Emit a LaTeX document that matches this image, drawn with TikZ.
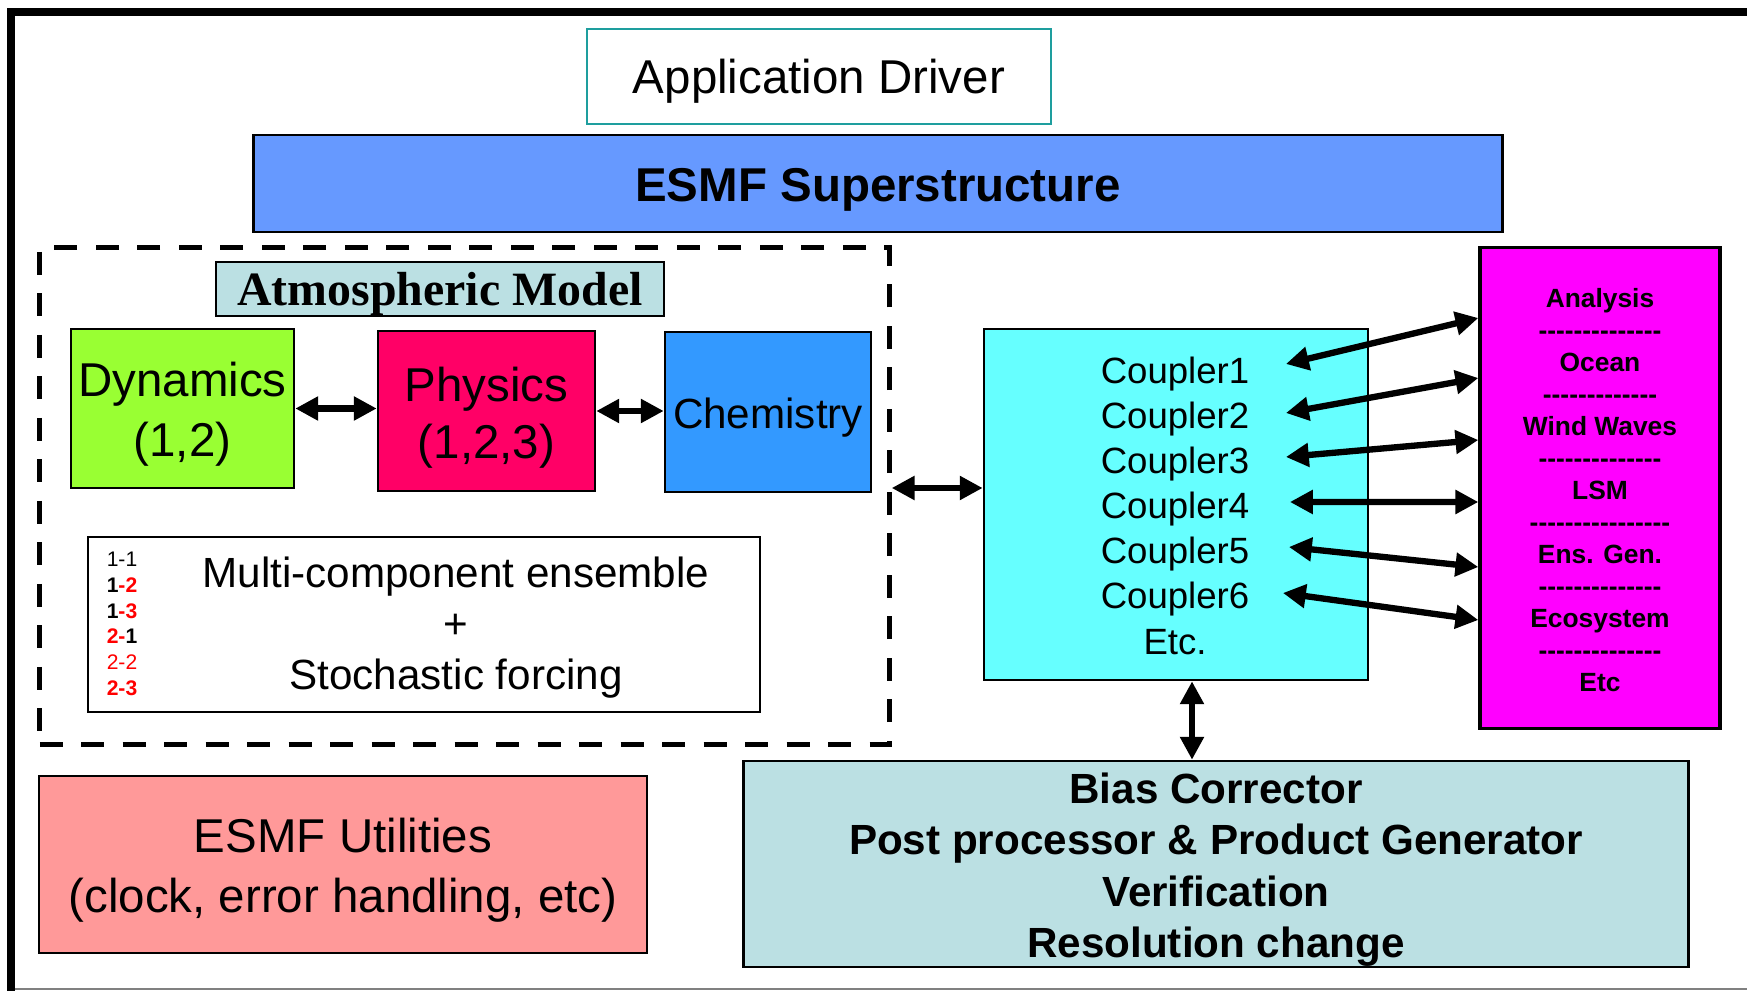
\documentclass[tikz,border=0pt]{standalone}
\usepackage{fontspec}
\setmainfont{Liberation Sans}
\newfontfamily\serifbold{Liberation Serif}[BoldFont={Liberation Serif Bold}]
\usetikzlibrary{arrows.meta}
\definecolor{drvteal}{RGB}{30,158,158}
\definecolor{supblue}{RGB}{102,153,255}
\definecolor{paleblue}{RGB}{187,224,227}
\definecolor{dyngreen}{RGB}{153,255,51}
\definecolor{phypink}{RGB}{255,0,102}
\definecolor{chemblue}{RGB}{51,153,255}
\definecolor{cplcyan}{RGB}{102,255,255}
\definecolor{magpink}{RGB}{255,0,255}
\definecolor{utilpink}{RGB}{255,153,153}
\newcommand{\rd}[1]{\textcolor{red}{#1}}
\newcommand{\dashrow}[1]{\foreach \k in {1,...,#1}{-\kern0pt}}
\newcommand{\dropby}[1]{\rule{0pt}{\dimexpr0.73em+#1\relax}}

\begin{document}
\begin{tikzpicture}[x=0.01cm, y=-0.01cm,
    bnode/.style={draw, line width=0.7pt, inner sep=0pt, align=center},
    tnode/.style={inner sep=0pt, align=center},
    big/.style={font=\fontsize{13.5}{17}\selectfont},
    dbl/.style={{Triangle[length=6.5pt,width=6.5pt]}-{Triangle[length=6.5pt,width=6.5pt]}, line width=1.8pt}]
    \useasboundingbox (0,0) rectangle (1747,991);
    \draw[line width=0.08cm] (11,991) -- (11,12) -- (1747,12);
    \draw[gray, line width=0.5pt] (15,989) -- (1747,989);

    \node[bnode, draw=drvteal, fill=white, minimum width=4.64cm, minimum height=0.95cm, big] (ad) at (819,76.5) {\dropby{2.6pt}Application Driver};
    \node[bnode, fill=supblue, minimum width=12.48cm, minimum height=0.97cm, font=\fontsize{13.5}{17}\selectfont\bfseries] (sup) at (878,183.5) {\dropby{3.2pt}ESMF Superstructure};

    \node[draw, line width=1.4pt, dash pattern=on 6.5pt off 5.3pt, minimum width=8.49cm, minimum height=4.96cm] (am) at (464.5,496) {};
    \node[bnode, fill=paleblue, minimum width=4.48cm, minimum height=0.48cm, font=\serifbold\fontsize{13.6}{16}\selectfont\bfseries] (atm) at (440,289) {\dropby{2.4pt}Atmospheric Model};
    \node[bnode, fill=dyngreen, minimum width=2.23cm, minimum height=1.59cm, big] (dyn) at (182.5,408.5) {\dropby{3.2pt}Dynamics\\(1,2)};
    \node[bnode, fill=phypink, minimum width=2.17cm, minimum height=1.60cm, font=\fontsize{13.5}{16.2}\selectfont] (phy) at (486.5,411) {\dropby{3.6pt}Physics\\(1,2,3)};
    \node[bnode, fill=chemblue, minimum width=2.06cm, minimum height=1.60cm, font=\fontsize{12}{15}\selectfont] (chem) at (768,412) {\dropby{3.2pt}Chemistry};
    \node[bnode, fill=white, minimum width=6.72cm, minimum height=1.75cm] (ens) at (424,624.5) {};
    \node[tnode, align=left, font=\fontsize{6}{7.3}\selectfont] (runs) at (122,624)
      {1-1\\\textbf{1\rd{-2}}\\\textbf{1\rd{-3}}\\\textbf{\rd{2-}1}\\\rd{2-2}\\\textbf{\rd{2-3}}};
    \node[tnode, font=\fontsize{12}{14.4}\selectfont] (enstxt) at (456,627.5) {Multi-component ensemble\\+\\Stochastic forcing};

    \node[bnode, fill=cplcyan, minimum width=3.84cm, minimum height=3.51cm] (cpl) at (1176,504.5) {};
    \foreach \i in {1,...,6}
      \node[tnode, font=\fontsize{10.4}{12.7}\selectfont] (c\i) at (1175,329+45*\i) {Coupler\i};
    \node[tnode, font=\fontsize{10.4}{12.7}\selectfont] (cetc) at (1175,642) {Etc.};

    \node[bnode, fill=magpink, line width=0.9pt, minimum width=2.40cm, minimum height=4.80cm, font=\fontsize{7.5}{9.1}\selectfont\bfseries] (mag) at (1600,488)
      {\dropby{1.2pt}Analysis\\\dashrow{14}\\Ocean\\\dashrow{13}\\Wind Waves\\\dashrow{14}\\LSM\\\dashrow{16}\\Ens. Gen.\\\dashrow{14}\\Ecosystem\\\dashrow{14}\\Etc};

    \node[bnode, fill=paleblue, minimum width=9.44cm, minimum height=2.06cm, font=\fontsize{12}{14.6}\selectfont\bfseries] (bias) at (1216,864)
      {\dropby{3.2pt}Bias Corrector\\Post processor \& Product Generator\\Verification\\Resolution change};
    \node[bnode, fill=utilpink, minimum width=6.08cm, minimum height=1.77cm, font=\fontsize{13.5}{16.8}\selectfont] (util) at (343,864.5)
      {\dropby{3.2pt}ESMF Utilities\\(clock, error handling, etc)};

    \draw[dbl] (dyn.east) -- (dyn.east -| phy.west);
    \draw[dbl] (phy.east) -- (phy.east -| chem.west);
    \draw[dbl] ([yshift=0.08cm]am.east) -- ([yshift=0.08cm]am.east -| cpl.west);
    \draw[dbl] ([xshift=0.16cm]cpl.south) -- ([xshift=0.16cm]cpl.south |- bias.north);
    \foreach \i/\dx/\dy/\yb in {1/0.36/0.10/318, 2/0.36/0.06/378, 3/0.36/0.07/440, 4/0.40/0.07/502, 5/0.39/0.07/567, 6/0.33/0.06/620}
      \draw[dbl] ([xshift=\dx cm, yshift=\dy cm]c\i.east) -- (mag.west |- 0,\yb);
\end{tikzpicture}
\end{document}
